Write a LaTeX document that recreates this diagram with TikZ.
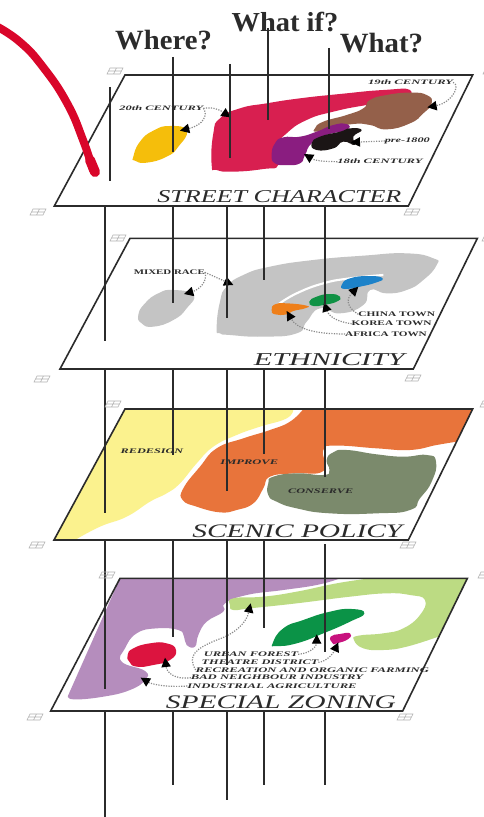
\documentclass[tikz,border=0pt]{standalone}
\usepackage{fontspec}
\usepackage{graphicx}
\setmainfont{Liberation Serif}
\usetikzlibrary{arrows.meta}
\definecolor{inkc}{HTML}{2B2B2B}
\definecolor{leadc}{HTML}{8A8A8A}
\newlength{\zu}\setlength{\zu}{0.25pt}
\newcommand\fitl[3]{\resizebox{#1\zu}{#2\zu}{#3}}
\newcommand\blob[2]{\fill[#1] plot[smooth cycle,tension=.9] coordinates {#2};}
\tikzset{
  x=0.75pt,y=-0.75pt,
  sheet/.style={draw=inkc,line width=1.2pt,line join=miter},
  pin/.style={draw=inkc,line width=1.1pt},
  lab/.style={inner sep=0pt,outer sep=0pt,text=inkc},
  leader/.style={draw=leadc,line width=0.9pt,densely dotted,-{Triangle[color=black,length=7pt,width=7pt]}},
  mk/.style={draw=black!30,line width=0.4pt}
}
\begin{document}
\begin{tikzpicture}
\path[use as bounding box,clip] (0,0) rectangle (484,817);
\fill[white] (0,0) rectangle (484,817);

% ---------- sheet 1
\begin{scope}[scale=0.33333]
\blob{color={rgb,255:red,245;green,190;blue,11}}{(400,470)(420,425)(460,392)(510,378)(560,392)(535,440)(500,470)(440,488)(405,482)}
\blob{color={rgb,255:red,216;green,31;blue,80}}{(635,495)(640,400)(660,355)(720,325)(800,310)(900,295)(1020,282)(1150,270)(1230,270)(1200,300)(1100,315)(1000,335)(920,360)(860,400)(830,440)(835,495)(790,507)(700,515)(650,510)}
\blob{color={rgb,255:red,148;green,96;blue,74}}{(945,385)(970,365)(1040,345)(1090,325)(1110,300)(1160,285)(1230,278)(1280,285)(1295,310)(1270,340)(1230,370)(1160,388)(1110,375)(1060,372)(1000,385)(950,395)}
\blob{color={rgb,255:red,138;green,29;blue,128}}{(815,465)(825,430)(850,412)(900,410)(950,395)(1000,375)(1040,372)(1040,390)(980,405)(935,430)(915,465)(900,490)(860,495)(825,490)}
\blob{color={rgb,255:red,27;green,21;blue,21}}{(935,430)(960,410)(1020,395)(1050,385)(1085,390)(1060,410)(1065,435)(1030,425)(1000,445)(950,450)}
\draw[sheet] (375,225) -- (1418,225) -- (1225,618) -- (163,618) -- cycle;
\node[lab] (c20) at (484,325) {\fitl{252}{14}{\itshape\bfseries 20th CENTURY}};
\node[lab] (c19) at (1232,247) {\fitl{255}{14}{\itshape\bfseries 19th CENTURY}};
\node[lab] (c18) at (1140,485) {\fitl{256}{14}{\itshape\bfseries 18th CENTURY}};
\node[lab] (pre) at (1222,423) {\fitl{135}{14}{\itshape\bfseries pre-1800}};
\coordinate (a20a) at (540,392);
\coordinate (a20b) at (692,352);
\coordinate (a19) at (1282,322);
\coordinate (apre) at (1052,427);
\coordinate (a18) at (912,462);
\draw[leader] (c20.east) .. controls (625,345) and (610,375) .. (a20a);
\draw[leader] (c20.east) .. controls (640,320) and (660,330) .. (a20b);
\draw[leader] (c19.east) .. controls (1385,260) and (1350,310) .. (a19);
\draw[leader] (pre.west) -- (apre);
\draw[leader] (c18.west) .. controls (975,485) and (945,482) .. (a18);
\node[lab] at (838,590) {\fitl{732}{36}{\itshape STREET CHARACTER}};
\end{scope}

% ---------- sheet 2
\begin{scope}[shift={(30,225)},scale=0.33333]
\blob{color={rgb,255:red,196;green,196;blue,196}}{(325,270)(345,235)(385,205)(430,195)(490,210)(470,250)(430,285)(370,305)(335,295)}
\blob{color={rgb,255:red,196;green,196;blue,196}}{(560,310)(570,230)(590,185)(640,150)(720,125)(850,105)(1000,92)(1130,85)(1210,100)(1220,120)(1180,165)(1130,195)(1070,205)(1020,195)(1000,240)(930,265)(870,250)(830,290)(800,325)(700,335)(600,330)(570,325)}
\draw[white,line width=1.6pt] plot[smooth,tension=.8] coordinates {(745,238)(800,205)(880,175)(960,160)(1060,150)};
\blob{color={rgb,255:red,238;green,127;blue,26}}{(725,255)(735,238)(770,235)(830,242)(825,250)(790,258)(770,268)(735,268)}
\blob{color={rgb,255:red,29;green,130;blue,201}}{(935,180)(960,160)(1020,153)(1058,160)(1040,172)(990,185)(945,192)}
\blob{color={rgb,255:red,16;green,146;blue,69}}{(838,230)(860,215)(900,207)(930,215)(920,230)(880,240)(850,243)}
\draw[sheet] (300,40) -- (1342,40) -- (1150,432) -- (90,432) -- cycle;
\node[lab] (mix) at (418,142) {\fitl{213}{14}{\bfseries MIXED RACE}};
\node[lab] (chi) at (1100,268) {\fitl{230}{14}{\bfseries CHINA TOWN}};
\node[lab] (kor) at (1085,296) {\fitl{240}{14}{\bfseries KOREA TOWN}};
\node[lab] (afr) at (1068,327) {\fitl{245}{14}{\bfseries AFRICA TOWN}};
\coordinate (am1) at (462,207);
\coordinate (am2) at (610,180);
\coordinate (ach) at (985,185);
\coordinate (ako) at (882,232);
\coordinate (aaf) at (770,258);
\draw[leader] (mix.east) .. controls (535,170) and (505,195) .. (am1);
\draw[leader] (mix.east) -- (am2);
\draw[leader] (chi.west) .. controls (940,240) and (955,215) .. (ach);
\draw[leader] (kor.west) .. controls (915,290) and (895,270) .. (ako);
\draw[leader] (afr.west) .. controls (850,327) and (800,310) .. (aaf);
\node[lab] at (898,403) {\fitl{452}{36}{\itshape ETHNICITY}};
\end{scope}

% ---------- sheet 3
\begin{scope}[shift={(30,395)},scale=0.33333]
\fill[color={rgb,255:red,251;green,242;blue,142}] plot[smooth,tension=.8] coordinates {(790,42)(770,70)(690,95)(620,120)(550,155)(500,205)(450,265)(410,295)(360,320)(290,365)(210,395)(135,435)} -- (72,437) -- (285,42) -- cycle;
\fill[color={rgb,255:red,232;green,116;blue,59}] plot[smooth,tension=.8] coordinates {(1280,140)(1220,150)(1140,165)(1040,160)(920,152)(880,165)(880,228)(790,235)(720,245)(700,280)(670,325)(620,345)(570,352)(500,335)(458,315)(460,280)(510,215)(560,160)(640,130)(720,105)(780,80)(820,42)} -- (1328,42) -- cycle;
\blob{color={rgb,255:red,123;green,138;blue,108}}{(715,265)(730,245)(800,235)(880,240)(898,225)(890,195)(910,172)(950,165)(1040,178)(1120,185)(1190,180)(1218,200)(1205,260)(1170,310)(1140,345)(1040,355)(900,355)(800,340)(740,320)(715,300)}
\draw[sheet] (285,42) -- (1328,42) -- (1135,435) -- (72,435) -- cycle;
\node[lab] at (366,170) {\fitl{188}{14}{\itshape\bfseries REDESIGN}};
\node[lab] at (658,203) {\fitl{173}{14}{\itshape\bfseries IMPROVE}};
\node[lab] at (872,290) {\fitl{195}{14}{\itshape\bfseries CONSERVE}};
\node[lab] at (802,408) {\fitl{630}{38}{\itshape SCENIC POLICY}};
\end{scope}

% ---------- sheet 4
\begin{scope}[shift={(30,565)},scale=0.33333]
\fill[color={rgb,255:red,181;green,141;blue,189}] plot[smooth,tension=.8] coordinates {(925,42)(860,60)(760,75)(650,90)(585,115)(580,140)(530,170)(505,210)(495,245)(470,240)(462,215)(445,195)(380,190)(320,205)(285,250)(275,290)(345,318)(345,345)(300,375)(220,395)(130,403)(115,390)} -- (270,40) -- (925,40) -- cycle;
\fill[color={rgb,255:red,188;green,219;blue,131}] plot[smooth,tension=.8] coordinates {(1225,215)(1130,245)(1060,255)(1000,250)(972,225)(985,212)(1060,205)(1120,190)(1170,150)(1185,105)(1140,90)(1070,85)(960,95)(800,115)(660,130)(610,135)(600,120)(610,100)(700,95)(800,80)(920,55)(1020,40)} -- (1312,40) -- cycle;
\blob{color={rgb,255:red,11;green,147;blue,71}}{(728,235)(760,190)(820,165)(900,140)(965,132)(1003,145)(960,170)(880,205)(800,235)(740,243)}
\blob{color={rgb,255:red,200;green,18;blue,126}}{(902,215)(930,207)(960,205)(955,222)(920,235)(908,235)}
\blob{color={rgb,255:red,220;green,20;blue,63}}{(293,270)(310,250)(360,235)(410,235)(438,255)(420,285)(370,300)(320,305)(298,290)}
\draw[sheet] (270,40) -- (1312,40) -- (1118,438) -- (62,438) -- cycle;
\node[lab] (urb) at (663,268) {\fitl{283}{14}{\itshape\bfseries URBAN FOREST}};
\node[lab] (the) at (690,292) {\fitl{350}{14}{\itshape\bfseries THEATRE DISTRICT}};
\node[lab] (rec) at (847,315) {\fitl{700}{14}{\itshape\bfseries RECREATION AND ORGANIC FARMING}};
\node[lab] (bad) at (741,338) {\fitl{517}{14}{\itshape\bfseries BAD NEIGHBOUR INDUSTRY}};
\node[lab] (ind) at (726,363) {\fitl{508}{14}{\itshape\bfseries INDUSTRIAL AGRICULTURE}};
\coordinate (au) at (860,208);
\coordinate (at) at (925,232);
\coordinate (ar) at (662,115);
\coordinate (ab) at (405,278);
\coordinate (ai) at (332,338);
\draw[leader] (urb.east) .. controls (840,265) and (860,245) .. (au);
\draw[leader] (the.east) .. controls (890,290) and (910,265) .. (at);
\draw[leader] (rec.west) .. controls (470,270) and (500,250) .. (560,225) .. controls (620,205) and (650,170) .. (ar);
\draw[leader] (bad.west) .. controls (430,345) and (410,320) .. (ab);
\draw[leader] (ind.west) .. controls (400,368) and (360,355) .. (ai);
\node[lab] at (753,411) {\fitl{690}{38}{\itshape SPECIAL ZONING}};
\end{scope}

% ---------- pins
\foreach \x/\a/\b in {110/87/181,173/57/152,230/64/158,268/28/120,329/48/129,
  105/206/341,173/206/303,227/206/318,264/206/280,325/206/305,
  105/369/513,173/369/455,227/369/491,264/369/454,325/369/477,
  105/540/689,173/540/637,227/540/665,264/540/628,325/544/652,
  105/712/817,173/712/785,227/712/800,264/712/785,325/712/785}
  {\draw[pin] (\x,\a) -- (\x,\b);}

% ---------- faint registration marks
\foreach \x/\y in {115/71,38/212,412/212,491/71,118/238,42/379,413/378,490/238,113/404,37/545,408/545,488/404,107/575,35/717,405/717,486/575}
  {\begin{scope}[shift={(\x,\y)}]
   \draw[mk] (-8,3) -- (-5,-3) -- (8,-3) -- (5,3) -- cycle (-1.5,3) -- (1.5,-3) (-6.5,0) -- (6.5,0);
   \end{scope}}

% ---------- questions
\node[lab] (qwhere) at (163.5,40) {\fitl{290}{58}{\bfseries Where?}};
\node[lab] (qif) at (285,22) {\fitl{320}{58}{\bfseries What if?}};
\node[lab] (qwhat) at (381.5,43) {\fitl{250}{58}{\bfseries What?}};

% ---------- red stroke
\draw[color={rgb,255:red,217;green,6;blue,42},line width=6pt,line cap=round,line join=round] plot[smooth,tension=.8] coordinates {(-4,26)(20,42)(43,67)(67,103)(83,140)(93,170)};
\draw[color={rgb,255:red,217;green,6;blue,42},line width=7.5pt,line cap=round] (90,160) -- (95,172);
\end{tikzpicture}
\end{document}
